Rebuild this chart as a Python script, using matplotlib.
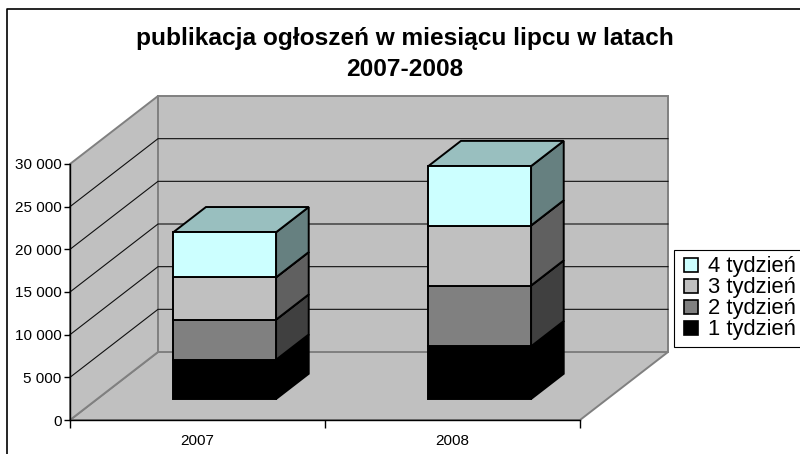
import matplotlib
matplotlib.use('Agg')
import matplotlib.pyplot as plt
from matplotlib.legend_handler import HandlerPatch
from matplotlib.lines import Line2D
from matplotlib.patches import Patch, Rectangle

plt.rcParams['font.family'] = ['Liberation Sans', 'DejaVu Sans']

# dane
years = ['2007', '2008']
week1 = [4600, 6170]
week2 = [4700, 7120]
week3 = [4960, 7040]
week4 = [5280, 6960]
series = [week1, week2, week3, week4]
series_names = ['1 tydzień', '2 tydzień', '3 tydzień', '4 tydzień']
yticks = [0, 5000, 10000, 15000, 20000, 25000, 30000]
title = 'publikacja ogłoszeń w miesiącu lipcu w latach\n2007-2008'

# kolory: przod, gora, bok
front = ['#000000', '#808080', '#C0C0C0', '#CCFFFF']
top = ['#000000', '#606060', '#909090', '#99BFBF']
side = ['#000000', '#404040', '#606060', '#668080']
wall = '#C0C0C0'
wall_edge = '#808080'

W, H = 800, 454
fig = plt.figure(figsize=(W / 100, H / 100), dpi=100)
# przednia plaszczyzna wykresu w pikselach: x 70-580, y 164-420
ax = fig.add_axes([70 / W, 1 - 420 / H, 510 / W, 256 / H])
ax.set_xlim(0, 2)
ax.set_ylim(0, 30000)
ax.patch.set_visible(False)

# przesuniecie glebokosci w jednostkach danych
depth_x = 88 / 255
depth_y = 68 / 256 * 30000


def pt(x, y, d):
    return x + d * depth_x, y + d * depth_y


def face(points, color, edge, lw, z):
    xs = [p[0] for p in points]
    ys = [p[1] for p in points]
    ax.fill(xs, ys, facecolor=color, edgecolor=edge, linewidth=lw, zorder=z,
            clip_on=False, joinstyle='miter')


ymax = yticks[-1]
# podloga i sciany
face([pt(0, 0, 0), pt(2, 0, 0), pt(2, 0, 1), pt(0, 0, 1)], wall, wall_edge, 1.4, 1)
face([pt(0, 0, 0), pt(0, 0, 1), pt(0, ymax, 1), pt(0, ymax, 0)], wall, wall_edge, 1.4, 1)
face([pt(0, 0, 1), pt(2, 0, 1), pt(2, ymax, 1), pt(0, ymax, 1)], wall, wall_edge, 1.4, 1)

# linie siatki
for v in yticks[1:-1]:
    a = pt(0, v, 0)
    b = pt(0, v, 1)
    c = pt(2, v, 1)
    ax.plot([a[0], b[0], c[0]], [a[1], b[1], c[1]], color='#101010', lw=0.8, zorder=2,
            clip_on=False)

# slupki
bar_w = 0.403
d0 = 0.309
d1 = 0.68
for i in range(len(years)):
    left = i + 0.5 - bar_w / 2
    right = left + bar_w
    bottom = 0
    for k, s in enumerate(series):
        val = s[i]
        upper = bottom + val
        edge = '#000000'
        z = 3 + k
        face([pt(right, bottom, d0), pt(right, bottom, d1), pt(right, upper, d1), pt(right, upper, d0)],
             side[k], edge, 1.4, z)
        face([pt(left, upper, d0), pt(right, upper, d0), pt(right, upper, d1), pt(left, upper, d1)],
             top[k], edge, 1.4, z)
        face([pt(left, bottom, d0), pt(right, bottom, d0), pt(right, upper, d0), pt(left, upper, d0)],
             front[k], edge, 1.4, z)
        bottom = upper

# osie
for s in ['top', 'right']:
    ax.spines[s].set_visible(False)
for s in ['left', 'bottom']:
    ax.spines[s].set_linewidth(1.0)
    ax.spines[s].set_zorder(10)
ax.set_yticks(yticks)
ax.set_yticklabels([f'{v:,}'.replace(',', ' ') for v in yticks], fontsize=11)
ax.tick_params(axis='y', length=4, width=1, pad=2)
ax.set_xticks([0, 1, 2])
ax.set_xticklabels([])
ax.set_xticks([0.5, 1.5], minor=True)
ax.set_xticklabels(years, minor=True, fontsize=11)
ax.tick_params(axis='x', which='major', length=6, width=1)
ax.tick_params(axis='x', which='minor', length=0, pad=10)

# tytul
fig.text(405 / W, 1 - 54 / H, title, ha='center', va='center', fontsize=17.6, fontweight='bold',
         linespacing=1.45)


# legenda - kwadraty odsuniete od ramki
def legend_box(legend, orig_handle, xdescent, ydescent, width, height, fontsize):
    return Rectangle((2.9 - xdescent, -ydescent), 10, 10)


handles = [Patch(facecolor=front[k], edgecolor='#000000', linewidth=1.2, label=series_names[k])
           for k in [3, 2, 1, 0]]
leg = fig.legend(handles=handles, loc='upper left', bbox_to_anchor=(674 / W, 1 - 250 / H),
                 fontsize=15.8, frameon=True, fancybox=False, edgecolor='#000000', framealpha=1,
                 handlelength=0.82, handleheight=0.63, handletextpad=0.42, labelspacing=0.0,
                 borderpad=0.29, borderaxespad=0,
                 handler_map={Patch: HandlerPatch(patch_func=legend_box)})
leg.get_frame().set_linewidth(0.8)

# ramka wykresu
fig.add_artist(Line2D([7 / W, 7 / W, 1], [0, 1 - 9 / H, 1 - 9 / H], color='black', lw=1.2))

fig.savefig('out.png', dpi=100)
